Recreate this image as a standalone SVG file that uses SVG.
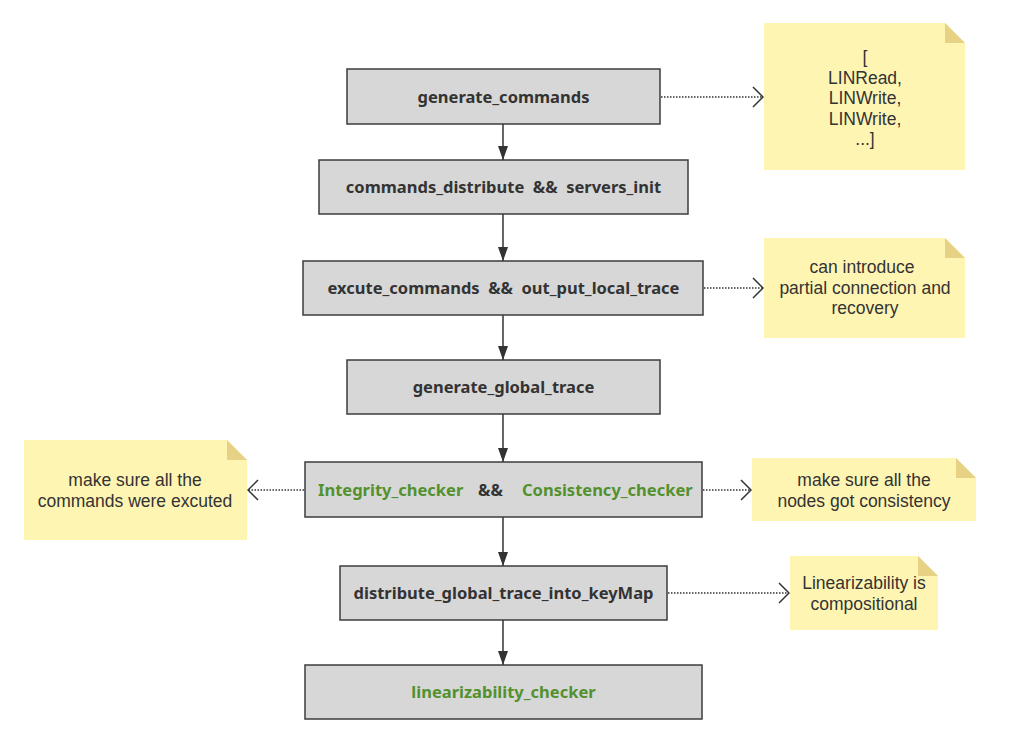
<svg xmlns="http://www.w3.org/2000/svg" width="1011" height="735" viewBox="0 0 1011 735">
<defs>
<marker id="solid" viewBox="0 0 14 10" refX="14" refY="5" markerWidth="14" markerHeight="10" markerUnits="userSpaceOnUse" orient="auto">
<path d="M0,0 L14,5 L0,10 z" fill="#333"/>
</marker>
<marker id="open" viewBox="0 0 12 22" refX="11" refY="11" markerWidth="12" markerHeight="22" markerUnits="userSpaceOnUse" orient="auto">
<path d="M1,1 L11,11 L1,21" fill="none" stroke="#333" stroke-width="1.5"/>
</marker>
</defs>
<style>
.box{fill:#d7d7d7;stroke:#3c3c3c;stroke-width:1.5}
.bt{font-family:"Noto Sans","Open Sans",sans-serif;font-weight:bold;font-size:16.5px;fill:#333;text-anchor:middle}
.st{text-anchor:start}
.g{fill:#52912e}
.note{fill:#fff5b3}
.fold{fill:#e6d185}
.nt{font-family:"Liberation Sans",Arial,sans-serif;font-size:17.5px;fill:#333;text-anchor:middle}
.flow{stroke:#333;stroke-width:1.5;fill:none;marker-end:url(#solid)}
.dot{stroke:#333;stroke-width:1.5;fill:none;stroke-dasharray:1.5 1.5;marker-end:url(#open)}
</style>
<rect width="1011" height="735" fill="#fff"/>
<g id="connectors">
<line class="flow" x1="503" y1="124" x2="503" y2="160"/>
<line class="flow" x1="503" y1="214" x2="503" y2="261"/>
<line class="flow" x1="503" y1="315" x2="503" y2="360"/>
<line class="flow" x1="503" y1="414" x2="503" y2="462"/>
<line class="flow" x1="503" y1="517" x2="503" y2="566"/>
<line class="flow" x1="503" y1="620" x2="503" y2="665"/>
<line class="dot" x1="661" y1="97" x2="763" y2="97"/>
<line class="dot" x1="704" y1="288" x2="763" y2="288"/>
<line class="dot" x1="304" y1="490" x2="248" y2="490"/>
<line class="dot" x1="703" y1="490" x2="751" y2="490"/>
<line class="dot" x1="668" y1="593" x2="789" y2="593"/>
</g>
<g id="n1"><rect class="box" x="347" y="69" width="313" height="55"/><text class="bt" x="503.5" y="102.5">generate_commands</text></g>
<g id="n2"><rect class="box" x="319" y="160" width="369" height="54"/><text class="bt" x="503.5" y="193" xml:space="preserve">commands_distribute  &amp;&amp;  servers_init</text></g>
<g id="n3"><rect class="box" x="303" y="261" width="400" height="54"/><text class="bt" x="503.5" y="293.5" xml:space="preserve">excute_commands  &amp;&amp;  out_put_local_trace</text></g>
<g id="n4"><rect class="box" x="347" y="360" width="313" height="54"/><text class="bt" x="503.5" y="392.5">generate_global_trace</text></g>
<g id="n5"><rect class="box" x="305" y="462" width="397" height="55"/><text class="bt st" y="495.5"><tspan class="g" x="318">Integrity_checker</tspan><tspan x="478">&amp;&amp;</tspan><tspan class="g" x="522">Consistency_checker</tspan></text></g>
<g id="n6"><rect class="box" x="340" y="566" width="327" height="54"/><text class="bt" x="503.5" y="598.5">distribute_global_trace_into_keyMap</text></g>
<g id="n7"><rect class="box" x="305" y="665" width="397" height="54"/><text class="bt g" x="503.5" y="697.5">linearizability_checker</text></g>
<g id="note1"><path class="note" d="M764,23 H945 L965,43 V170 H764 z"/><path class="fold" d="M945,23 L965,43 H945 z"/>
<text class="nt"><tspan x="865" y="63">[</tspan><tspan x="865" y="83.5">LINRead,</tspan><tspan x="865" y="104">LINWrite,</tspan><tspan x="865" y="124.5">LINWrite,</tspan><tspan x="865" y="145">...]</tspan></text></g>
<g id="note2"><path class="note" d="M764,238 H945 L965,258 V338 H764 z"/><path class="fold" d="M945,238 L965,258 H945 z"/>
<text class="nt"><tspan x="862" y="273">can introduce</tspan><tspan x="865" y="293.5">partial connection and</tspan><tspan x="865" y="314">recovery</tspan></text></g>
<g id="note3"><path class="note" d="M24,440 H227 L247,460 V540 H24 z"/><path class="fold" d="M227,440 L247,460 H227 z"/>
<text class="nt"><tspan x="135" y="486">make sure all the</tspan><tspan x="135" y="506.5">commands were excuted</tspan></text></g>
<g id="note4"><path class="note" d="M752,458 H956 L976,478 V521 H752 z"/><path class="fold" d="M956,458 L976,478 H956 z"/>
<text class="nt"><tspan x="864" y="486">make sure all the</tspan><tspan x="864" y="506.5">nodes got consistency</tspan></text></g>
<g id="note5"><path class="note" d="M790,556 H918 L938,576 V630 H790 z"/><path class="fold" d="M918,556 L938,576 H918 z"/>
<text class="nt"><tspan x="864" y="589">Linearizability is</tspan><tspan x="864" y="609.5">compositional</tspan></text></g>
</svg>
